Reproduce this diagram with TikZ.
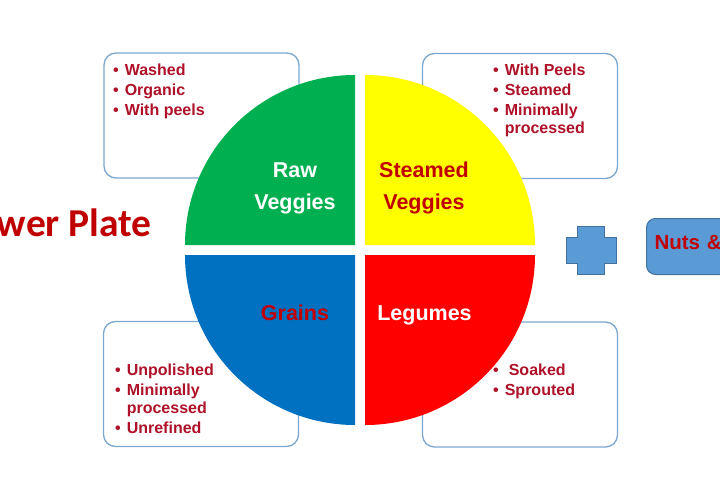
\documentclass[tikz,border=0pt]{standalone}
\usepackage{fontspec}
\setmainfont{Liberation Sans}
\newfontfamily\titlefont{Carlito}
\usepackage{xcolor}
\usepackage[]{tikz}
\usetikzlibrary{positioning,shapes,calc}
\definecolor{plateGreen}{HTML}{00B050}
\definecolor{plateYellow}{HTML}{FFFF00}
\definecolor{plateBlue}{HTML}{0070C0}
\definecolor{plateRed}{HTML}{FF0000}
\definecolor{boxBlue}{HTML}{7BA7D0}
\definecolor{crossBlue}{HTML}{5B9BD5}
\definecolor{crossEdge}{HTML}{41719C}
\definecolor{titleRed}{HTML}{C00000}
\definecolor{listRed}{HTML}{AE1128}
\tikzstyle{nodeBox}  =[draw=boxBlue, line width=1.3pt, rounded corners=12pt, fill=white, minimum width=195pt, minimum height=125pt]
\tikzstyle{nodeList} =[inner sep=0pt, anchor=base west, text=listRed, font=\fontsize{16}{18}\selectfont\bfseries]
\tikzstyle{nodeSlice}=[align=center, inner sep=0pt, font=\fontsize{21.5}{32}\selectfont\bfseries]
\tikzstyle{nodeNuts} =[fill=crossBlue, draw=crossEdge, line width=1pt, rounded corners=9pt, minimum height=56pt, text width=100pt, inner xsep=8pt, text depth=8pt, align=left, text=titleRed, font=\fontsize{20.5}{24}\selectfont\bfseries]
\newcommand{\bulletlist}[1]{\begin{tabular}[t]{@{}l@{\hspace{6pt}}l@{}}#1\end{tabular}}

\begin{document}
\begin{tikzpicture}[x=1pt, y=-1pt]
        \useasboundingbox (0,0) rectangle (720,500);
        % boxes behind the plate
        \node[nodeBox] (rawBox) at (201.5,115.5) {};
        \node[nodeBox] (steamBox) at (520,116) {};
        \node[nodeBox] (grainBox) at (201,384) {};
        \node[nodeBox] (legumeBox) at (520,384.5) {};
        \node[nodeList] (rawList) at (113,75.5) {\bulletlist{
            \textbullet & Washed\\[2pt]
            \textbullet & Organic\\[2pt]
            \textbullet & With peels}};
        \node[nodeList] (steamList) at (493,75.5) {\bulletlist{
            \textbullet & With Peels\\[2pt]
            \textbullet & Steamed\\[2pt]
            \textbullet & Minimally\\
                        & processed}};
        \node[nodeList] (grainList) at (115,375.5) {\bulletlist{
            \textbullet & Unpolished\\[2pt]
            \textbullet & Minimally\\
                        & processed\\[2pt]
            \textbullet & Unrefined}};
        \node[nodeList] (legumeList) at (493,375.5) {\bulletlist{
            \textbullet & \hspace{4pt}Soaked\\[2pt]
            \textbullet & Sprouted}};
        % the plate
        \fill[plateGreen]  (355,245) -- ++(-170,0) arc[start angle=180, end angle=270, radius=170] -- cycle;
        \fill[plateYellow] (365,245) -- ++(170,0) arc[start angle=0, end angle=-90, radius=170] -- cycle;
        \fill[plateBlue]   (355,255) -- ++(-170,0) arc[start angle=180, end angle=90, radius=170] -- cycle;
        \fill[plateRed]    (365,255) -- ++(170,0) arc[start angle=0, end angle=90, radius=170] -- cycle;
        \node[nodeSlice, text=white] (raw) at (295,188) {Raw\\Veggies};
        \node[nodeSlice, text=titleRed] (steam) at (424,188) {Steamed\\Veggies};
        \node[nodeSlice, text=titleRed, anchor=base] (grain) at (295,320.5) {Grains};
        \node[nodeSlice, text=white, anchor=base] (legume) at (424.5,320.5) {Legumes};
        % title and extras
        \node[inner sep=0pt, anchor=base east, text=titleRed, font=\titlefont\fontsize{39.5}{42}\selectfont\bfseries] (title) at (152,236.5) {Power Plate};
        \draw[fill=crossBlue, draw=crossEdge, line width=1pt] (577,226) -- (604,226) -- (604,237) -- (616,237) -- (616,263) -- (604,263)
            -- (604,274) -- (577,274) -- (577,263) -- (566,263) -- (566,237) -- (577,237) -- cycle;
        \node[nodeNuts, anchor=north west] (nuts) at (646,218) {Nuts \&};
        %\draw[red] (title) -- (raw);
      \end{tikzpicture}
\end{document}
